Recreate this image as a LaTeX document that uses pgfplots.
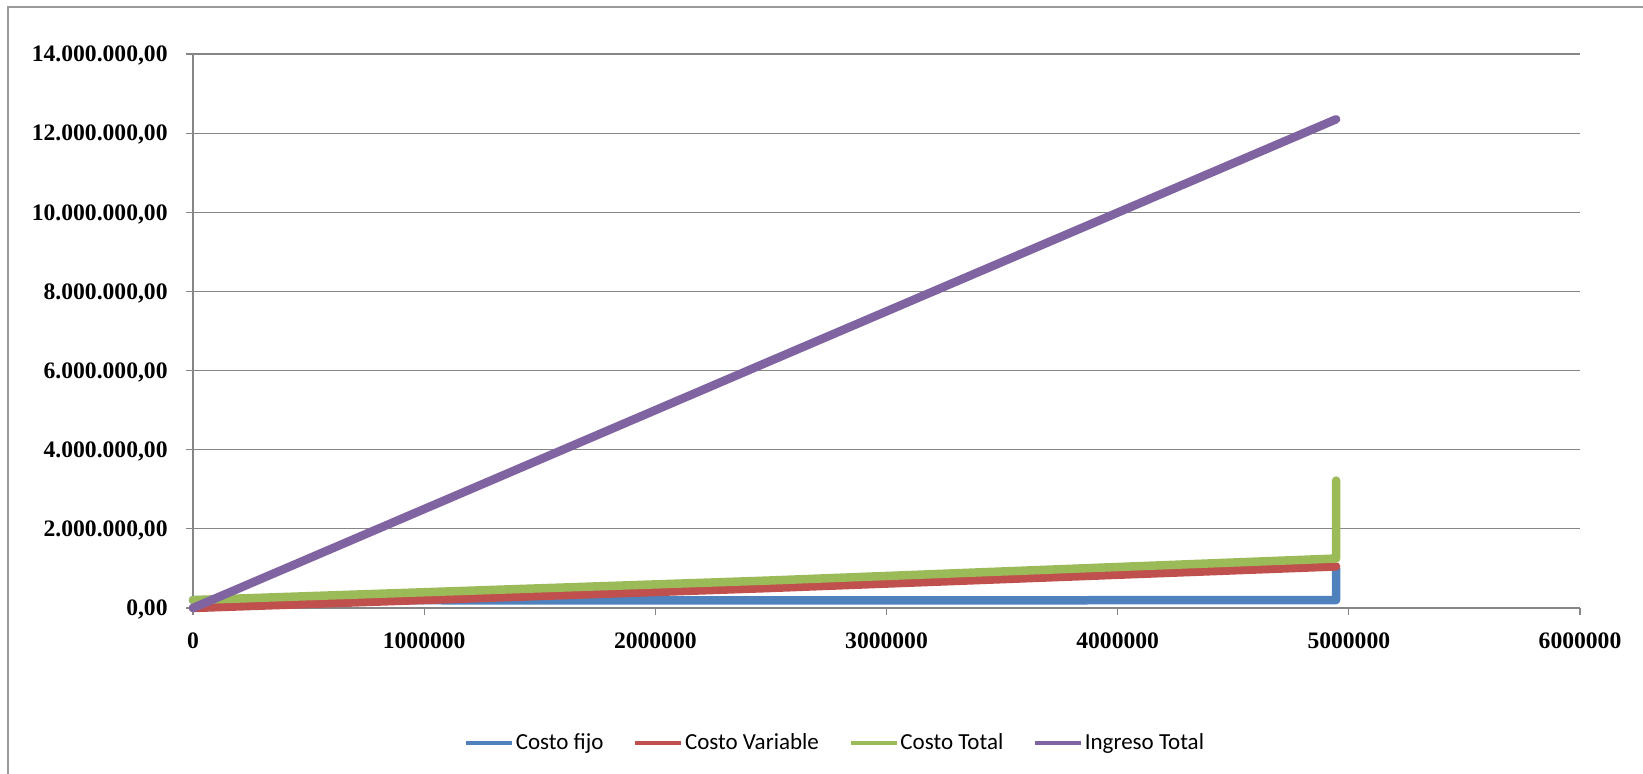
\documentclass[border=0pt]{standalone}
\usepackage{pgfplots}
\pgfplotsset{compat=1.18}
\usepackage{fontspec}
\setmainfont{Carlito}
\newfontfamily\tickfont{Liberation Serif}

\definecolor{cfijo}{HTML}{4F81BD}
\definecolor{cvar}{HTML}{C0504D}
\definecolor{ctotal}{HTML}{9BBB59}
\definecolor{ingreso}{HTML}{8064A2}
\definecolor{gridgray}{HTML}{868686}
\definecolor{framegray}{HTML}{9A9A9A}

\begin{document}
\begin{tikzpicture}
\useasboundingbox (0pt,0pt) rectangle (821.5pt,387pt);
% chart area frame
\draw[framegray, line width=1pt] (4pt,0pt) -- (4pt,383.5pt) -- (821.5pt,383.5pt);
\begin{axis}[
  at={(96.5pt,83pt)}, anchor=south west,
  scale only axis, width=693.5pt, height=277pt,
  xmin=0, xmax=6000000, ymin=0, ymax=14000000,
  axis lines=left,
  axis line style={-, gridgray, line width=0.7pt},
  clip=false,
  xtick={0,1000000,2000000,3000000,4000000,5000000,6000000},
  xticklabels={0,1000000,2000000,3000000,4000000,5000000,6000000},
  ytick={0,2000000,4000000,6000000,8000000,10000000,12000000,14000000},
  yticklabels={{0,00},{2.000.000,00},{4.000.000,00},{6.000.000,00},{8.000.000,00},{10.000.000,00},{12.000.000,00},{14.000.000,00}},
  scaled ticks=false,
  tick align=outside,
  major tick length=3.5pt,
  tick style={gridgray, line width=0.6pt},
  ymajorgrids,
  grid style={gridgray, line width=0.6pt},
  ticklabel style={font=\tickfont\bfseries\fontsize{11.8}{14}\selectfont, text depth=0pt},
  xticklabel style={anchor=center, inner sep=0pt},
  xticklabel shift=13pt,
  yticklabel style={anchor=east, inner sep=0pt},
  yticklabel shift=9pt,
  every axis plot/.append style={line width=4.25pt, line cap=round, line join=round},
  legend columns=4,
  legend style={at={(0.463,-0.2437)}, anchor=center, draw=none, fill=none,
    font=\fontsize{11.5}{14}\selectfont,
    nodes={inner sep=1pt},
    /tikz/every even column/.append style={column sep=14pt}},
  legend image code/.code={\draw[#1, line width=1.75pt, line cap=butt] (0pt,0pt) -- (23pt,0pt);},
]
\addplot[cfijo] coordinates {(0,200000) (2472500,190000) (4945000,200000) (4945000,1000000)};
\addlegendentry{Costo fijo}
\addplot[cvar] coordinates {(0,0) (2472500,500000) (4945000,1050000)};
\addlegendentry{Costo Variable}
\addplot[ctotal] coordinates {(0,200000) (2472500,690000) (4945000,1250000) (4945000,3220000)};
\addlegendentry{Costo Total}
\addplot[ingreso] coordinates {(0,0) (2472500,6180000) (4945000,12350000)};
\addlegendentry{Ingreso Total}
\end{axis}
\end{tikzpicture}
\end{document}
